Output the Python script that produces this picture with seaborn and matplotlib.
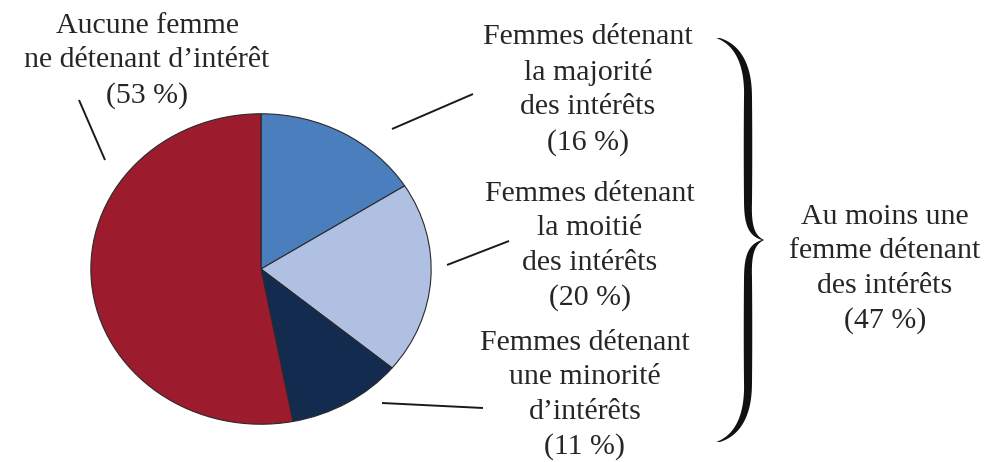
import numpy as np
import seaborn as sns
import matplotlib.pyplot as plt

# Répartition des entreprises selon la part des intérêts détenus par des femmes
categories = ['Femmes détenant\nla majorité\ndes intérêts',
              'Femmes détenant\nla moitié\ndes intérêts',
              'Femmes détenant\nune minorité\nd’intérêts',
              'Aucune femme\nne détenant d’intérêt']
shares = [16, 20, 11, 53]
colors = ['#4a7ebd', '#b0c0e2', '#132b4e', '#9c1c2e']
group_label = 'Au moins une\nfemme détenant\ndes intérêts'
group_share = 47

sns.set_theme(style='white')
plt.rcParams['font.family'] = ['Liberation Serif', 'DejaVu Serif']

W, H = 990, 462
fig = plt.figure(figsize=(W / 100, H / 100), dpi=100)

# overlay in pixel coordinates for labels, leader lines and the brace
ov = fig.add_axes([0, 0, 1, 1])
ov.set_xlim(0, W)
ov.set_ylim(H, 0)
ov.axis('off')

# pie (slightly stretched horizontally like the original)
ax = fig.add_axes([90 / W, 1 - 425 / H, 342 / W, 312 / H])
ax.pie(shares, colors=colors, startangle=90, counterclock=False,
       wedgeprops=dict(edgecolor='#2a2a2a', linewidth=0.8))
ax.set_aspect('auto')
ax.set_xlim(-1.005, 1.005)
ax.set_ylim(-1.005, 1.005)

txt = dict(ha='center', va='center', fontsize=21.5, color='#262626',
           linespacing=1.42)
label_pos = [(588, 90), (590, 246), (585, 395), (147, 61)]
for cat, s, (x, y) in zip(categories, shares, label_pos):
    ov.text(x, y, f'{cat}\n({s} %)', **txt)
ov.text(885, 269, f'{group_label}\n({group_share} %)', **txt)

# leader lines
leaders = [((392, 129), (473, 94)),
           ((447, 265), (509, 241)),
           ((382, 403), (483, 408)),
           ((79, 100), (105, 160))]
for (x0, y0), (x1, y1) in leaders:
    ov.plot([x0, x1], [y0, y1], color='#1a1a1a', lw=1.4, solid_capstyle='butt')


# curly brace drawn as a filled shape with tapering width
def bez(p0, p1, p2, p3, n=40):
    t = np.linspace(0, 1, n)[:, None]
    p0, p1, p2, p3 = map(np.array, (p0, p1, p2, p3))
    return ((1 - t) ** 3) * p0 + 3 * ((1 - t) ** 2) * t * p1 \
        + 3 * (1 - t) * t ** 2 * p2 + t ** 3 * p3


tip_y = 240
upper = np.vstack([
    bez((763, tip_y), (752, tip_y - 4), (748, tip_y - 14), (748, 205)),
    bez((748, 205), (748, 170), (748, 130), (748, 95)),
    bez((748, 95), (748, 62), (736, 44), (718, 38)),
])
lower = upper.copy()
lower[:, 1] = 2 * tip_y - lower[:, 1]
centre = np.vstack([upper[::-1], lower[1:]])
n = len(centre)
s = np.linspace(-1, 1, n)
width = 2.0 + 6.5 * np.sin(np.pi * np.abs(s)) ** 0.7 + 1.5 * np.abs(s) ** 8
left = centre.copy()
right = centre.copy()
left[:, 0] -= width / 2
right[:, 0] += width / 2
poly = np.vstack([left, right[::-1]])
ov.fill(poly[:, 0], poly[:, 1], color='#111111', lw=0)

fig.savefig('out.png', dpi=100, facecolor='white')
